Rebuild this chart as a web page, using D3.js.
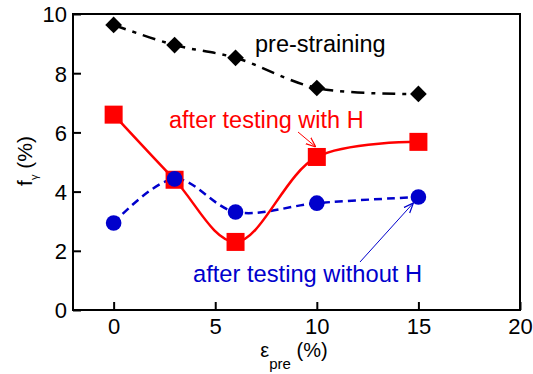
<!DOCTYPE html>
<html><head><meta charset="utf-8">
<script src="https://cdn.jsdelivr.net/npm/d3@7"></script>
<style>body{margin:0;background:#fff}svg{display:block;font-family:"Liberation Sans",Arial,sans-serif}</style>
</head><body><svg id="c" width="533" height="374"></svg>
<script>
const strain = [0, 3, 6, 10, 15];
const preStraining = [9.63, 8.95, 8.52, 7.5, 7.3];
const withH = [6.6, 4.4, 2.3, 5.17, 5.68];
const withoutH = [2.94, 4.43, 3.31, 3.61, 3.82];
const xTicks = [0, 5, 10, 15, 20];
const yTicks = [0, 2, 4, 6, 8, 10];

const svg = d3.select("#c");
const L = 73, R = 520, T = 14, B = 310;
const x = d3.scaleLinear().domain([-2, 20]).range([L, R]);
const y = d3.scaleLinear().domain([0, 10]).range([B, T]);

// frame
svg.append("rect").attr("x", L).attr("y", T).attr("width", R - L).attr("height", B - T)
  .attr("fill", "none").attr("stroke", "#000").attr("stroke-width", 2);

const xAxis = svg.append("g").attr("transform", `translate(0,${B})`)
  .call(d3.axisBottom(x).tickValues(xTicks).tickSizeInner(-8).tickSizeOuter(0).tickPadding(8));
const yAxis = svg.append("g").attr("transform", `translate(${L},0)`)
  .call(d3.axisLeft(y).tickValues(yTicks).tickSizeInner(-8).tickSizeOuter(0).tickPadding(6));
[xAxis, yAxis].forEach(g => {
  g.select(".domain").remove();
  g.selectAll("line").attr("stroke", "#000").attr("stroke-width", 2);
  g.selectAll("text").attr("font-size", 22).attr("fill", "#000").style("font-family", "Liberation Sans, Arial, sans-serif");
});
yAxis.selectAll("text").attr("dy", "0.36em");

const pts = vals => strain.map((s, i) => [x(s), y(vals[i])]);
const line = d3.line().curve(d3.curveCatmullRom.alpha(0.5));

// lines
svg.append("path").attr("d", line(pts(preStraining))).attr("fill", "none")
  .attr("stroke", "#000").attr("stroke-width", 2.5).attr("stroke-dasharray", "13,7,4,7");
svg.append("path").attr("d", line(pts(withoutH))).attr("fill", "none")
  .attr("stroke", "#0000cc").attr("stroke-width", 2.5).attr("stroke-dasharray", "8,5");
svg.append("path").attr("d", line(pts(withH))).attr("fill", "none")
  .attr("stroke", "#ff0000").attr("stroke-width", 2.5);

// markers
svg.append("g").selectAll("rect").data(pts(withH)).join("rect")
  .attr("x", d => d[0] - 9).attr("y", d => d[1] - 9).attr("width", 18).attr("height", 18).attr("fill", "#ff0000");
svg.append("g").selectAll("circle").data(pts(withoutH)).join("circle")
  .attr("cx", d => d[0]).attr("cy", d => d[1]).attr("r", 7.8).attr("fill", "#0000cc");
svg.append("g").selectAll("path").data(pts(preStraining)).join("path")
  .attr("d", d3.symbol().type(d3.symbolSquare).size(140))
  .attr("transform", d => `translate(${d[0]},${d[1]}) rotate(45)`).attr("fill", "#000");

// annotations
svg.append("text").attr("x", 255).attr("y", 52).attr("font-size", 23.5).attr("fill", "#000").text("pre-straining");
svg.append("text").attr("x", 169).attr("y", 128).attr("font-size", 23.5).attr("fill", "#ff0000").text("after testing with H");
svg.append("text").attr("x", 193).attr("y", 282).attr("font-size", 23.7).attr("fill", "#0000cc").text("after testing without H");

const defs = svg.append("defs");
[["ar", "#ff0000"], ["ab", "#0000cc"]].forEach(([id, c]) => {
  defs.append("marker").attr("id", id).attr("viewBox", "0 0 10 10").attr("refX", 10).attr("refY", 5)
    .attr("markerWidth", 10).attr("markerHeight", 10).attr("markerUnits", "userSpaceOnUse").attr("orient", "auto")
    .append("path").attr("d", "M0,1 L10,5 L0,9").attr("fill", "none").attr("stroke", c).attr("stroke-width", 1.2);
});
svg.append("line").attr("x1", 298).attr("y1", 132).attr("x2", x(10) - 1).attr("y2", y(withH[3]) - 10)
  .attr("stroke", "#ff0000").attr("stroke-width", 1).attr("marker-end", "url(#ar)");
svg.append("line").attr("x1", 360).attr("y1", 262).attr("x2", x(15) - 5).attr("y2", y(withoutH[4]) + 6)
  .attr("stroke", "#0000cc").attr("stroke-width", 1).attr("marker-end", "url(#ab)");

// axis titles
const yl = svg.append("text").attr("transform", "translate(32,161) rotate(-90)").attr("text-anchor", "middle")
  .attr("font-size", 21).attr("fill", "#000");
yl.append("tspan").text("f");
yl.append("tspan").attr("font-size", 11).attr("dy", 6).text("γ");
yl.append("tspan").attr("dy", -6).text(" (%)");

const xl = svg.append("text").attr("x", 294).attr("y", 357).attr("text-anchor", "middle")
  .attr("font-size", 20).attr("fill", "#000");
xl.append("tspan").text("ε");
xl.append("tspan").attr("font-size", 15).attr("dy", 12).text("pre");
xl.append("tspan").attr("dy", -12).text(" (%)");
</script></body></html>
